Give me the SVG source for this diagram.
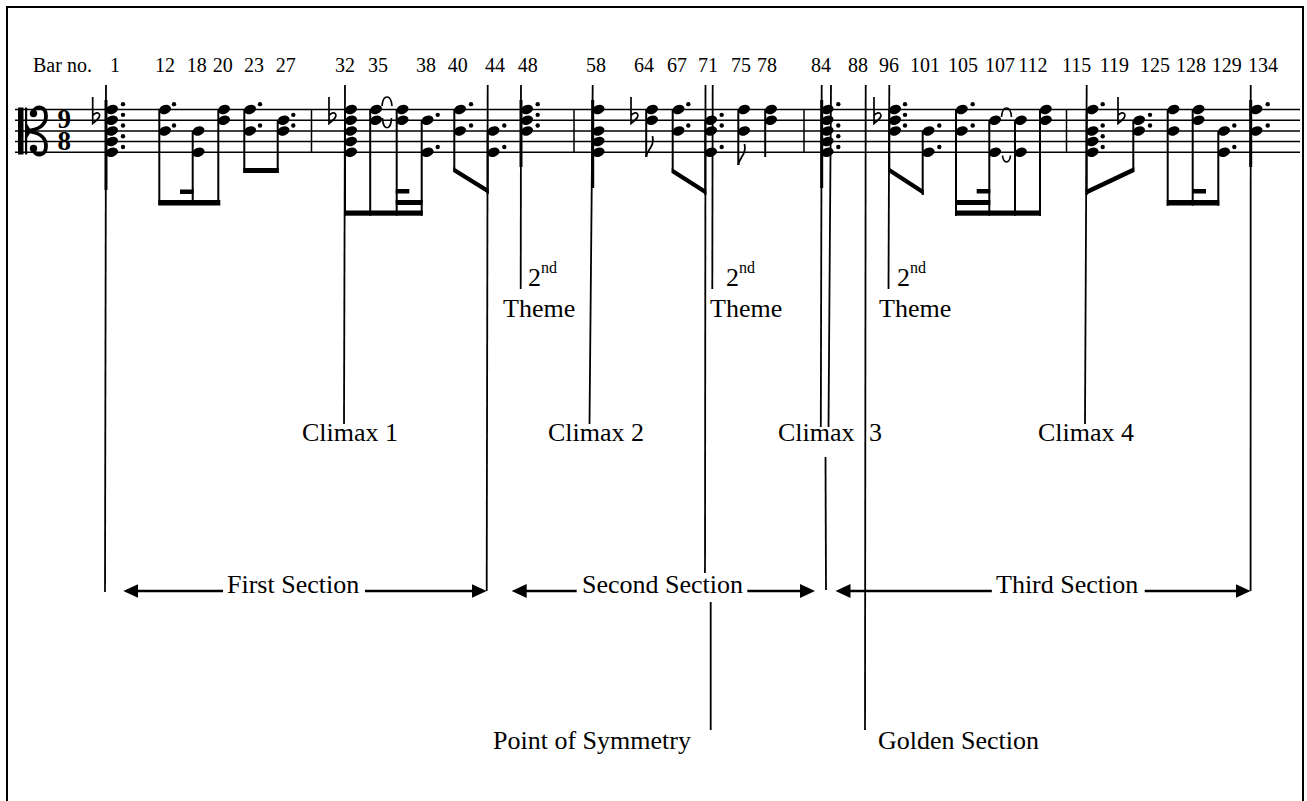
<svg xmlns="http://www.w3.org/2000/svg" xmlns:xlink="http://www.w3.org/1999/xlink" width="1307" height="801" viewBox="0 0 1307 801">
<defs>
<style>
text{font-family:"Liberation Serif","Times New Roman",serif;fill:#000}
.num{font-size:20px;text-anchor:middle}
.lbl{font-size:26px}
.sup{font-size:16px}
.ts{font-size:27px;font-weight:bold}
.sl{stroke:#000;stroke-width:1.5}
.stem{stroke:#000;stroke-width:2}
.thick{stroke-width:3}
.guide line{stroke:#000;stroke-width:1.8}
.arrow{stroke:#000;stroke-width:2.6;fill:none;marker-end:url(#ah)}
.tie{stroke:#000;stroke-width:1.6;fill:none}
.flag{stroke:#000;stroke-width:1.8;fill:none}
</style>
<marker id="ah" markerUnits="userSpaceOnUse" markerWidth="16" markerHeight="14" refX="7" refY="7" orient="auto"><path d="M0,0 L15,7 L0,14 Z" fill="#000"/></marker>
<ellipse id="h" rx="6.2" ry="4.5" transform="rotate(-20)"/>
<circle id="d" r="2.2"/>
<path id="fl" d="M0,-24 V2.5 C4,-0.5 8,-4 6.8,-6.5 C5.6,-9 2.5,-8.5 0,-5.5" fill="none" stroke="#000" stroke-width="1.7"/>
</defs>
<rect width="1307" height="801" fill="#fff"/>
<path id="border" d="M7,805 V7 H1303 V805" fill="none" stroke="#000" stroke-width="2"/>

<g id="staff">
<line class="sl" x1="15" y1="109.5" x2="1300" y2="109.5"/>
<line class="sl" x1="15" y1="120.2" x2="1300" y2="120.2"/>
<line class="sl" x1="15" y1="130.9" x2="1300" y2="130.9"/>
<line class="sl" x1="15" y1="141.6" x2="1300" y2="141.6"/>
<line class="sl" x1="15" y1="152.3" x2="1300" y2="152.3"/>
<line class="sl" x1="311.5" y1="109.5" x2="311.5" y2="152.3"/>
<line class="sl" x1="574" y1="109.5" x2="574" y2="152.3"/>
<line class="sl" x1="804" y1="109.5" x2="804" y2="152.3"/>
<line class="sl" x1="1066.5" y1="109.5" x2="1066.5" y2="152.3"/>
</g>

<g id="clef">
<rect x="18" y="107.5" width="5.5" height="47"/>
<rect x="25" y="107.5" width="2.2" height="47"/>
<polygon points="27,124 31.5,131 27,138"/>
<path d="M33,112 C36,105 46,106 46,116 C46,126 38,129 30,130.5" fill="none" stroke="#000" stroke-width="3.8"/>
<circle cx="33.5" cy="113.5" r="3.7"/>
<path d="M30,131.5 C38,133 46,136 46,146 C46,156 36,157 33,150" fill="none" stroke="#000" stroke-width="3.8"/>
<circle cx="33.5" cy="148.5" r="3.7"/>
<text class="ts"><tspan x="57.5" y="128">9</tspan><tspan x="57.5" y="149.5">8</tspan></text>
</g>

<g id="notes">
<use href="#fl" x="92.7" y="121"/>
<use href="#fl" x="329" y="121"/>
<use href="#fl" x="631" y="121"/>
<use href="#fl" x="874" y="121"/>
<use href="#fl" x="1118" y="121"/>

<use href="#h" x="112" y="109.5"/><use href="#h" x="112" y="120.2"/><use href="#h" x="112" y="130.9"/><use href="#h" x="112" y="141.6"/><use href="#h" x="112" y="152.3"/>
<use href="#h" x="165" y="109.5"/><use href="#h" x="165" y="130.9"/>
<use href="#h" x="198.5" y="130.9"/><use href="#h" x="198.5" y="152.3"/>
<use href="#h" x="224" y="109.5"/><use href="#h" x="224" y="120.2"/>
<use href="#h" x="250" y="109.5"/><use href="#h" x="250" y="130.9"/>
<use href="#h" x="283.5" y="120.2"/><use href="#h" x="283.5" y="130.9"/>
<use href="#h" x="351" y="109.5"/><use href="#h" x="351" y="120.2"/><use href="#h" x="351" y="130.9"/><use href="#h" x="351" y="141.6"/><use href="#h" x="351" y="152.3"/>
<use href="#h" x="376" y="109.5"/><use href="#h" x="376" y="120.2"/>
<use href="#h" x="402.5" y="109.5"/><use href="#h" x="402.5" y="120.2"/>
<use href="#h" x="427.5" y="120.2"/><use href="#h" x="427.5" y="152.3"/>
<use href="#h" x="460" y="109.5"/><use href="#h" x="460" y="130.9"/>
<use href="#h" x="493.5" y="130.9"/><use href="#h" x="493.5" y="152.3"/>
<use href="#h" x="527" y="109.5"/><use href="#h" x="527" y="120.2"/><use href="#h" x="527" y="130.9"/>
<use href="#h" x="598.5" y="109.5"/><use href="#h" x="598.5" y="130.9"/><use href="#h" x="598.5" y="141.6"/><use href="#h" x="598.5" y="152.3"/>
<use href="#h" x="652" y="109.5"/><use href="#h" x="652" y="120.2"/>
<use href="#h" x="678.5" y="109.5"/><use href="#h" x="678.5" y="130.9"/>
<use href="#h" x="711" y="120.2"/><use href="#h" x="711" y="130.9"/><use href="#h" x="711" y="152.3"/>
<use href="#h" x="744" y="109.5"/><use href="#h" x="744" y="130.9"/>
<use href="#h" x="771" y="109.5"/><use href="#h" x="771" y="120.2"/>
<use href="#h" x="827.5" y="109.5"/><use href="#h" x="827.5" y="120.2"/><use href="#h" x="827.5" y="130.9"/><use href="#h" x="827.5" y="141.6"/><use href="#h" x="827.5" y="152.3"/>
<use href="#h" x="895" y="109.5"/><use href="#h" x="895" y="120.2"/><use href="#h" x="895" y="130.9"/>
<use href="#h" x="928.5" y="130.9"/><use href="#h" x="928.5" y="152.3"/>
<use href="#h" x="961.8" y="109.5"/><use href="#h" x="961.8" y="130.9"/>
<use href="#h" x="995" y="120.2"/><use href="#h" x="995" y="152.3"/>
<use href="#h" x="1020.8" y="120.2"/><use href="#h" x="1020.8" y="152.3"/>
<use href="#h" x="1045.8" y="109.5"/><use href="#h" x="1045.8" y="120.2"/>
<use href="#h" x="1092.5" y="109.5"/><use href="#h" x="1092.5" y="130.9"/><use href="#h" x="1092.5" y="141.6"/><use href="#h" x="1092.5" y="152.3"/>
<use href="#h" x="1139" y="120.2"/><use href="#h" x="1139" y="130.9"/>
<use href="#h" x="1173.5" y="109.5"/><use href="#h" x="1173.5" y="130.9"/>
<use href="#h" x="1198.5" y="109.5"/><use href="#h" x="1198.5" y="120.2"/>
<use href="#h" x="1224" y="130.9"/><use href="#h" x="1224" y="152.3"/>
<use href="#h" x="1256.5" y="109.5"/><use href="#h" x="1256.5" y="130.9"/>

<use href="#d" x="123" y="104.15"/><use href="#d" x="123" y="114.85"/><use href="#d" x="123" y="125.55"/><use href="#d" x="123" y="136.25"/><use href="#d" x="123" y="146.95"/>
<use href="#d" x="174" y="104.15"/><use href="#d" x="174" y="125.55"/>
<use href="#d" x="260" y="104.15"/><use href="#d" x="260" y="125.55"/>
<use href="#d" x="293.3" y="114.85"/><use href="#d" x="293.3" y="125.55"/>
<use href="#d" x="437.7" y="114.85"/><use href="#d" x="437.7" y="146.95"/>
<use href="#d" x="471" y="104.15"/><use href="#d" x="471" y="125.55"/>
<use href="#d" x="504.3" y="125.55"/><use href="#d" x="504.3" y="146.95"/>
<use href="#d" x="537.7" y="104.15"/><use href="#d" x="537.7" y="114.85"/><use href="#d" x="537.7" y="125.55"/>
<use href="#d" x="688.3" y="104.15"/><use href="#d" x="688.3" y="125.55"/>
<use href="#d" x="721.7" y="114.85"/><use href="#d" x="721.7" y="125.55"/><use href="#d" x="721.7" y="146.95"/>
<use href="#d" x="838.3" y="104.15"/><use href="#d" x="838.3" y="125.55"/><use href="#d" x="838.3" y="136.25"/><use href="#d" x="838.3" y="146.95"/>
<use href="#d" x="905" y="104.15"/><use href="#d" x="905" y="114.85"/><use href="#d" x="905" y="125.55"/>
<use href="#d" x="939.3" y="125.55"/><use href="#d" x="939.3" y="146.95"/>
<use href="#d" x="972.7" y="104.15"/><use href="#d" x="972.7" y="125.55"/>
<use href="#d" x="1102.7" y="104.15"/><use href="#d" x="1102.7" y="125.55"/><use href="#d" x="1102.7" y="136.25"/><use href="#d" x="1102.7" y="146.95"/>
<use href="#d" x="1150" y="114.85"/><use href="#d" x="1150" y="125.55"/>
<use href="#d" x="1234.3" y="125.55"/><use href="#d" x="1234.3" y="146.95"/>
<use href="#d" x="1267.7" y="104.15"/><use href="#d" x="1267.7" y="125.55"/>

<line class="stem thick" x1="106" y1="100" x2="106" y2="190"/>
<line class="stem" x1="159.3" y1="109.5" x2="159.3" y2="205"/>
<line class="stem" x1="192.7" y1="130.9" x2="192.7" y2="205"/>
<line class="stem" x1="218.3" y1="109.5" x2="218.3" y2="205"/>
<line class="stem" x1="244.3" y1="109.5" x2="244.3" y2="173"/>
<line class="stem" x1="277.7" y1="120.2" x2="277.7" y2="173"/>
<line class="stem" x1="345" y1="109.5" x2="345" y2="215.7"/>
<line class="stem" x1="370.2" y1="109.5" x2="370.2" y2="215.7"/>
<line class="stem" x1="396.7" y1="109.5" x2="396.7" y2="215.7"/>
<line class="stem" x1="421.7" y1="120.2" x2="421.7" y2="215.7"/>
<line class="stem" x1="454.3" y1="109.5" x2="454.3" y2="172"/>
<line class="stem" x1="487.7" y1="130.9" x2="487.7" y2="194"/>
<line class="stem thick" x1="521" y1="100" x2="521" y2="167"/>
<line class="stem thick" x1="592.7" y1="100" x2="592.7" y2="188"/>
<line class="stem" x1="646.2" y1="109.5" x2="646.2" y2="157"/>
<line class="stem" x1="672.7" y1="109.5" x2="672.7" y2="173"/>
<line class="stem" x1="705.3" y1="120.2" x2="705.3" y2="195"/>
<line class="stem" x1="738.3" y1="109.5" x2="738.3" y2="165"/>
<line class="stem" x1="765.2" y1="109.5" x2="765.2" y2="157"/>
<line class="stem thick" x1="821.7" y1="100" x2="821.7" y2="188"/>
<line class="stem" x1="889.3" y1="109.5" x2="889.3" y2="172"/>
<line class="stem" x1="922.7" y1="130.9" x2="922.7" y2="195"/>
<line class="stem" x1="956" y1="109.5" x2="956" y2="215.7"/>
<line class="stem" x1="989.3" y1="120.2" x2="989.3" y2="215.7"/>
<line class="stem" x1="1015" y1="120.2" x2="1015" y2="215.7"/>
<line class="stem" x1="1040" y1="109.5" x2="1040" y2="215.7"/>
<line class="stem" x1="1086.7" y1="109.5" x2="1086.7" y2="195"/>
<line class="stem" x1="1133.3" y1="120.2" x2="1133.3" y2="172"/>
<line class="stem" x1="1167.7" y1="109.5" x2="1167.7" y2="205.7"/>
<line class="stem" x1="1192.7" y1="109.5" x2="1192.7" y2="205.7"/>
<line class="stem" x1="1218.3" y1="130.9" x2="1218.3" y2="205.7"/>
<line class="stem thick" x1="1250.7" y1="100" x2="1250.7" y2="167"/>

<rect x="158.3" y="200" width="62" height="5.5"/>
<rect x="180" y="189.5" width="13.7" height="4.5"/>
<rect x="243.3" y="168" width="35.4" height="5"/>
<rect x="344" y="210.5" width="78.7" height="5.2"/>
<rect x="395.7" y="200" width="27" height="5"/>
<rect x="395.7" y="189" width="13.6" height="4.5"/>
<polygon points="453.3,167 488.7,189 488.7,194 453.3,172"/>
<polygon points="671.7,168 706.3,190 706.3,195 671.7,173"/>
<polygon points="888.3,167 923.7,190 923.7,195 888.3,172"/>
<rect x="955" y="210.5" width="86" height="5.2"/>
<rect x="955" y="200" width="35.3" height="5"/>
<rect x="976.7" y="189" width="13.6" height="4.5"/>
<polygon points="1085.7,190 1134.3,167 1134.3,172 1085.7,195"/>
<rect x="1166.7" y="200" width="52.6" height="5.5"/>
<rect x="1192.7" y="189" width="13.3" height="4.5"/>

<path class="flag" d="M646.2,157 C647,149 655,147 652.5,136"/>
<path class="flag" d="M738.3,165 C739,157 747,155 744.5,144"/>

<path class="tie" d="M382,106 C383,94 391,94 392,106"/>
<path class="tie" d="M382.5,118 C383,131 391,131 391.5,118"/>
<path class="tie" d="M1001.5,117 C1002.5,105 1010.5,105 1011.5,117"/>
<path class="tie" d="M1002.5,155.5 C1003.5,164 1009.5,164 1010.5,155.5"/>
</g>

<g id="bar-numbers">
<text x="33" y="72" style="font-size:20px">Bar no.</text>
<text class="num" x="115" y="72">1</text>
<text class="num" x="165" y="72">12</text>
<text class="num" x="196.7" y="72">18</text>
<text class="num" x="222.8" y="72">20</text>
<text class="num" x="254" y="72">23</text>
<text class="num" x="285.8" y="72">27</text>
<text class="num" x="345" y="72">32</text>
<text class="num" x="378" y="72">35</text>
<text class="num" x="426" y="72">38</text>
<text class="num" x="457.7" y="72">40</text>
<text class="num" x="495" y="72">44</text>
<text class="num" x="527.7" y="72">48</text>
<text class="num" x="596" y="72">58</text>
<text class="num" x="644" y="72">64</text>
<text class="num" x="677" y="72">67</text>
<text class="num" x="708" y="72">71</text>
<text class="num" x="741" y="72">75</text>
<text class="num" x="767" y="72">78</text>
<text class="num" x="821" y="72">84</text>
<text class="num" x="858" y="72">88</text>
<text class="num" x="889" y="72">96</text>
<text class="num" x="925" y="72">101</text>
<text class="num" x="963" y="72">105</text>
<text class="num" x="1000" y="72">107</text>
<text class="num" x="1033" y="72">112</text>
<text class="num" x="1076.7" y="72">115</text>
<text class="num" x="1114.5" y="72">119</text>
<text class="num" x="1155" y="72">125</text>
<text class="num" x="1191" y="72">128</text>
<text class="num" x="1226.7" y="72">129</text>
<text class="num" x="1263" y="72">134</text>
</g>

<g id="connectors">
<g class="guide">
<line x1="106" y1="85" x2="105" y2="592"/>
<line x1="345" y1="85" x2="344" y2="424"/>
<line x1="487.7" y1="85" x2="486.7" y2="591"/>
<line x1="521" y1="85" x2="520.7" y2="289"/>
<line x1="592.7" y1="85" x2="589.5" y2="424"/>
<line x1="705.5" y1="85" x2="705" y2="573"/>
<line x1="712.7" y1="85" x2="712.3" y2="289"/>
<line x1="710.7" y1="602" x2="710.7" y2="730"/>
<line x1="821.7" y1="85" x2="820.8" y2="427"/>
<line x1="831" y1="85" x2="828.5" y2="427"/>
<line x1="825.5" y1="457" x2="826" y2="590"/>
<line x1="865.7" y1="85" x2="865" y2="730"/>
<line x1="889.3" y1="85" x2="888.5" y2="289"/>
<line x1="1086.7" y1="85" x2="1085" y2="424"/>
<line x1="1250.7" y1="85" x2="1250.6" y2="591"/>
</g>
<line class="arrow" x1="223" y1="591" x2="131.3" y2="591"/>
<line class="arrow" x1="365" y1="591" x2="478.7" y2="591"/>
<line class="arrow" x1="576.7" y1="591" x2="519.7" y2="591"/>
<line class="arrow" x1="747.3" y1="591" x2="807" y2="591"/>
<line class="arrow" x1="991.8" y1="591" x2="843.5" y2="591"/>
<line class="arrow" x1="1144.7" y1="591" x2="1242.6" y2="591"/>
</g>

<g id="theme-1"><text class="lbl" x="528" y="286">2</text><text class="sup" x="541" y="273">nd</text><text class="lbl" x="503" y="316.7">Theme</text></g>
<g id="theme-2"><text class="lbl" x="726" y="286">2</text><text class="sup" x="739" y="273">nd</text><text class="lbl" x="710" y="316.7">Theme</text></g>
<g id="theme-3"><text class="lbl" x="897" y="286">2</text><text class="sup" x="910" y="273">nd</text><text class="lbl" x="879" y="316.7">Theme</text></g>
<g id="climax-1"><text class="lbl" x="302" y="441">Climax 1</text></g>
<g id="climax-2"><text class="lbl" x="548" y="441">Climax 2</text></g>
<g id="climax-3"><text class="lbl" x="778" y="441">Climax <tspan x="869">3</tspan></text></g>
<g id="climax-4"><text class="lbl" x="1038" y="441">Climax 4</text></g>
<g id="first-section"><text class="lbl" x="227" y="592.5">First Section</text></g>
<g id="second-section"><text class="lbl" x="582" y="592.5">Second Section</text></g>
<g id="third-section"><text class="lbl" x="996" y="592.5">Third Section</text></g>
<g id="point-of-symmetry"><text class="lbl" x="493" y="749">Point of Symmetry</text></g>
<g id="golden-section"><text class="lbl" x="878" y="749">Golden Section</text></g>
</svg>
